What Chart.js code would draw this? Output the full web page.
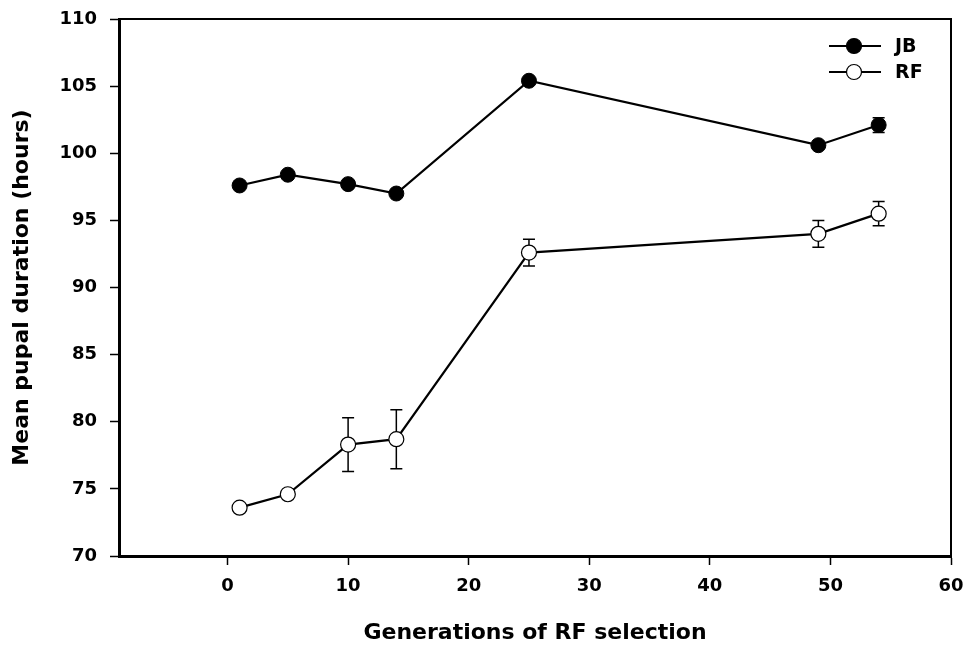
<!DOCTYPE html>
<html>
<head>
<meta charset="utf-8">
<script src="https://cdn.jsdelivr.net/npm/chart.js@4.4.0/dist/chart.umd.min.js"></script>
<style>
  html, body { margin: 0; padding: 0; background: #fff; }
</style>
</head>
<body>
<canvas id="graphique" width="967" height="648"></canvas>
<script>
// Données
var generations = [1, 5, 10, 14, 25, 49, 54];
var dureeJB = [97.6, 98.4, 97.7, 97.0, 105.4, 100.6, 102.1];
var erreurJB = [0.2, 0.2, 0.2, 0.2, 0.2, 0.2, 0.55];
var dureeRF = [73.6, 74.6, 78.3, 78.7, 92.6, 94.0, 95.5];
var erreurRF = [0.2, 0.2, 2.0, 2.2, 1.0, 1.0, 0.9];
var ticksX = [0, 10, 20, 30, 40, 50, 60];
var ticksY = [70, 75, 80, 85, 90, 95, 100, 105, 110];

var police = 'DejaVu Sans, Liberation Sans, Arial, sans-serif';

function points(valeurs) {
  return generations.map(function(g, i) {
    return { x: g, y: valeurs[i] };
  });
}

// Barres d'erreur (dessinées sous les marqueurs)
var barresErreur = {
  id: 'barresErreur',
  beforeDatasetsDraw: function(chart) {
    var ctx = chart.ctx;
    var sx = chart.scales.x, sy = chart.scales.y;
    ctx.save();
    ctx.strokeStyle = '#000';
    ctx.lineWidth = 1.5;
    chart.data.datasets.forEach(function(ds) {
      ds.erreurs.forEach(function(e, i) {
        var px = sx.getPixelForValue(ds.data[i].x);
        var haut = sy.getPixelForValue(ds.data[i].y + e);
        var bas = sy.getPixelForValue(ds.data[i].y - e);
        ctx.beginPath();
        ctx.moveTo(px, haut); ctx.lineTo(px, bas);
        ctx.moveTo(px - 6, haut); ctx.lineTo(px + 6, haut);
        ctx.moveTo(px - 6, bas); ctx.lineTo(px + 6, bas);
        ctx.stroke();
      });
    });
    ctx.restore();
  }
};

// Cadre haut/droite + légende
var cadreLegende = {
  id: 'cadreLegende',
  afterDraw: function(chart) {
    var ctx = chart.ctx;
    var a = chart.chartArea;
    ctx.save();
    ctx.strokeStyle = '#000';
    ctx.lineWidth = 2;
    ctx.beginPath();
    ctx.moveTo(a.left, a.top);
    ctx.lineTo(a.right, a.top);
    ctx.lineTo(a.right, a.bottom);
    ctx.stroke();

    chart.data.datasets.forEach(function(ds, i) {
      var y = a.top + 27 + i * 26;
      var x0 = a.right - 122, x1 = a.right - 70, xm = a.right - 97;
      ctx.strokeStyle = '#000';
      ctx.lineWidth = 2;
      ctx.beginPath();
      ctx.moveTo(x0, y); ctx.lineTo(x1, y);
      ctx.stroke();
      ctx.beginPath();
      ctx.arc(xm, y, 7.5, 0, Math.PI * 2);
      ctx.fillStyle = ds.pointBackgroundColor;
      ctx.fill();
      ctx.lineWidth = 1.2;
      ctx.stroke();
      ctx.fillStyle = '#000';
      ctx.font = 'bold 19px ' + police;
      ctx.textBaseline = 'middle';
      ctx.fillText(ds.label, a.right - 56, y + 1);
    });
    ctx.restore();
  }
};

var ctx1 = document.getElementById('graphique').getContext('2d');
var monGraphique = new Chart(ctx1, {
  type: 'line',
  data: {
    datasets: [{
      label: 'JB',
      data: points(dureeJB),
      erreurs: erreurJB,
      borderColor: '#000',
      borderWidth: 2.2,
      pointRadius: 7.5,
      pointBackgroundColor: '#000',
      pointBorderColor: '#000',
      pointBorderWidth: 1,
      tension: 0
    }, {
      label: 'RF',
      data: points(dureeRF),
      erreurs: erreurRF,
      borderColor: '#000',
      borderWidth: 2.2,
      pointRadius: 7.5,
      pointBackgroundColor: '#fff',
      pointBorderColor: '#000',
      pointBorderWidth: 1.2,
      tension: 0
    }]
  },
  options: {
    responsive: false,
    animation: false,
    layout: { padding: { top: 19, right: 16, left: 0, bottom: 0 } },
    plugins: { legend: { display: false }, tooltip: { enabled: false } },
    scales: {
      x: {
        type: 'linear',
        min: -9,
        max: 60,
        afterBuildTicks: function(s) { s.ticks = ticksX.map(function(v) { return { value: v }; }); },
        afterFit: function(s) { s.height = 92; s.paddingLeft = 0; s.paddingRight = 0; },
        grid: { drawOnChartArea: false, drawTicks: true, tickLength: 9, tickColor: '#000', tickWidth: 1.5 },
        border: { display: true, color: '#000', width: 3 },
        ticks: { color: '#000', font: { family: police, weight: 'bold', size: 18 }, padding: 11 },
        title: { display: true, text: 'Generations of RF selection', color: '#000',
                 font: { family: police, weight: 'bold', size: 22 }, padding: { top: 0, bottom: 2 } }
      },
      y: {
        min: 70,
        max: 110,
        afterBuildTicks: function(s) { s.ticks = ticksY.map(function(v) { return { value: v }; }); },
        afterFit: function(s) { s.width = 119; s.paddingTop = 0; s.paddingBottom = 0; },
        grid: { drawOnChartArea: false, drawTicks: true, tickLength: 9, tickColor: '#000', tickWidth: 1.5 },
        border: { display: true, color: '#000', width: 3 },
        ticks: { color: '#000', font: { family: police, weight: 'bold', size: 18 }, padding: 13 },
        title: { display: true, text: 'Mean pupal duration (hours)', color: '#000',
                 font: { family: police, weight: 'bold', size: 22 }, padding: { top: 9, bottom: 0 } }
      }
    }
  },
  plugins: [barresErreur, cadreLegende]
});
</script>
</body>
</html>
